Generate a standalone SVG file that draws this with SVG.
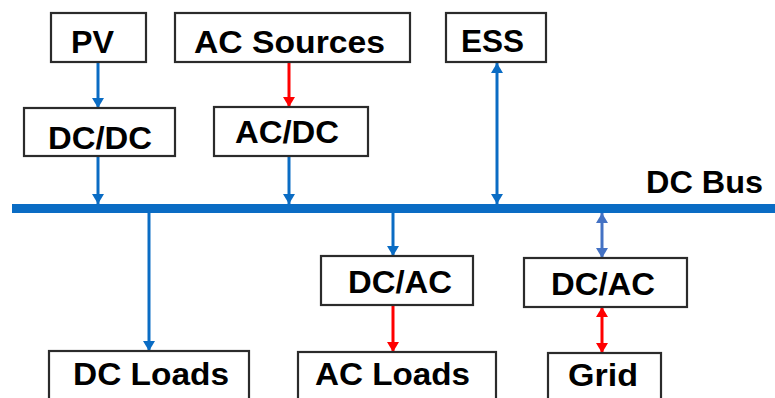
<svg xmlns="http://www.w3.org/2000/svg" width="775" height="398" viewBox="0 0 775 398">
<style>
.box{fill:#fff;stroke:#2b2b2b;stroke-width:2.2}
.lbl{font-family:"Liberation Sans",Arial,sans-serif;font-weight:bold;font-size:31px;fill:#000}
.b{stroke:#0a6cc4;stroke-width:3;fill:none}
.b2{stroke:#4472c4;stroke-width:3;fill:none}
.r{stroke:#ff0000;stroke-width:3;fill:none}
</style>
<defs>
<marker id="ab" markerUnits="userSpaceOnUse" markerWidth="14" markerHeight="12" refX="10" refY="6" orient="auto-start-reverse"><path d="M0,0 L10,6 L0,12 Z" fill="#0a6cc4"/></marker>
<marker id="ab2" markerUnits="userSpaceOnUse" markerWidth="14" markerHeight="12" refX="10" refY="6" orient="auto-start-reverse"><path d="M0,0 L10,6 L0,12 Z" fill="#4472c4"/></marker>
<marker id="ar" markerUnits="userSpaceOnUse" markerWidth="14" markerHeight="12" refX="10" refY="6" orient="auto-start-reverse"><path d="M0,0 L10,6 L0,12 Z" fill="#ff0000"/></marker>
</defs>
<rect width="775" height="398" fill="#fff"/>
<g id="connectors">
<rect id="bus" x="12" y="204" width="763" height="9" fill="#0a6cc4"/>
<line class="b" x1="98" y1="62" x2="98" y2="108" marker-end="url(#ab)"/>
<line class="b" x1="98" y1="156" x2="98" y2="204" marker-end="url(#ab)"/>
<line class="r" x1="289" y1="62" x2="289" y2="107" marker-end="url(#ar)"/>
<line class="b" x1="289" y1="156" x2="289" y2="204" marker-end="url(#ab)"/>
<line class="b" x1="497" y1="63" x2="497" y2="204" marker-start="url(#ab)" marker-end="url(#ab)"/>
<line class="b" x1="149" y1="213" x2="149" y2="351" marker-end="url(#ab)"/>
<line class="b" x1="393" y1="213" x2="393" y2="256" marker-end="url(#ab)"/>
<line class="r" x1="393" y1="306" x2="393" y2="352" marker-end="url(#ar)"/>
<line class="b2" x1="602" y1="213" x2="602" y2="258" marker-start="url(#ab2)" marker-end="url(#ab2)"/>
<line class="r" x1="602" y1="307" x2="602" y2="353" marker-start="url(#ar)" marker-end="url(#ar)"/>
<text class="lbl" x="646" y="193" textLength="117" lengthAdjust="spacingAndGlyphs">DC Bus</text>
</g>
<g id="pv"><rect class="box" x="51" y="13" width="95" height="49"/><text class="lbl" x="71" y="53" textLength="43" lengthAdjust="spacingAndGlyphs">PV</text></g>
<g id="ac-sources"><rect class="box" x="175" y="13" width="235" height="49"/><text class="lbl" x="194" y="53" textLength="191" lengthAdjust="spacingAndGlyphs">AC Sources</text></g>
<g id="ess"><rect class="box" x="446" y="13" width="100" height="49"/><text class="lbl" x="461" y="52" textLength="63" lengthAdjust="spacingAndGlyphs">ESS</text></g>
<g id="dcdc"><rect class="box" x="24" y="108" width="151" height="48"/><text class="lbl" x="48" y="149" textLength="104" lengthAdjust="spacingAndGlyphs">DC/DC</text></g>
<g id="acdc"><rect class="box" x="214" y="107" width="154" height="49"/><text class="lbl" x="235" y="143" textLength="104" lengthAdjust="spacingAndGlyphs">AC/DC</text></g>
<g id="dcac1"><rect class="box" x="321" y="256" width="152" height="49"/><text class="lbl" x="348" y="293" textLength="104" lengthAdjust="spacingAndGlyphs">DC/AC</text></g>
<g id="dcac2"><rect class="box" x="524" y="258" width="163" height="49"/><text class="lbl" x="551" y="295" textLength="104" lengthAdjust="spacingAndGlyphs">DC/AC</text></g>
<g id="dc-loads"><rect class="box" x="49" y="351" width="200" height="60"/><text class="lbl" x="73" y="385" textLength="156" lengthAdjust="spacingAndGlyphs">DC Loads</text></g>
<g id="ac-loads"><rect class="box" x="298" y="352" width="198" height="60"/><text class="lbl" x="315" y="385" textLength="155" lengthAdjust="spacingAndGlyphs">AC Loads</text></g>
<g id="grid"><rect class="box" x="548" y="353" width="113" height="60"/><text class="lbl" x="568" y="386" textLength="70" lengthAdjust="spacingAndGlyphs">Grid</text></g>
</svg>
